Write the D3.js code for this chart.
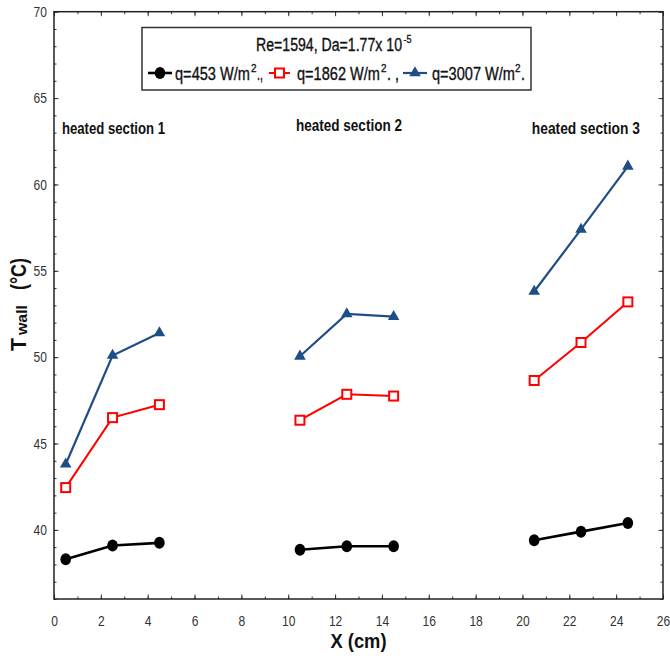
<!DOCTYPE html>
<html>
<head>
<meta charset="utf-8">
<script src="https://cdn.jsdelivr.net/npm/d3@7"></script>
<style>
  html, body { margin: 0; padding: 0; background: #fff; }
  svg { display: block; }
</style>
</head>
<body>
<svg id="chart" width="670" height="666"></svg>
<script>
// Wall temperature along the three heated sections
const xSection1 = [0.5, 2.5, 4.5];
const xSection2 = [10.5, 12.5, 14.5];
const xSection3 = [20.5, 22.5, 24.5];

const q453  = [[38.3, 39.1, 39.25], [38.85, 39.05, 39.05], [39.4, 39.9, 40.4]];
const q1862 = [[42.45, 46.5, 47.25], [46.35, 47.85, 47.75], [48.65, 50.85, 53.2]];
const q3007 = [[43.8, 50.1, 51.4], [50.05, 52.5, 52.35], [53.8, 57.4, 61.05]];

const xTickValues = [0, 2, 4, 6, 8, 10, 12, 14, 16, 18, 20, 22, 24, 26];
const yTickValues = [40, 45, 50, 55, 60, 65, 70];
const sectionLabels = ["heated section 1", "heated section 2", "heated section 3"];
const seriesLabels = ["q=453 W/m", "q=1862 W/m", "q=3007 W/m"];
const seriesSuffix = [".,", ". ,", "."];

const sections = [xSection1, xSection2, xSection3];

const svg = d3.select("#chart");
const plotLeft = 54, plotRight = 663, plotTop = 11.7, plotBottom = 599;

const x = d3.scaleLinear().domain([0, 26]).range([plotLeft, plotRight]);
const y = d3.scaleLinear().domain([36, 70]).range([plotBottom, plotTop]);

// condensed sans: narrow face if present, otherwise squeezed with textLength
const FONT = '"Liberation Sans Narrow", "Arial Narrow", "Liberation Sans", Arial, sans-serif';

function squeezed(sel, len) {
  return sel.attr("textLength", len).attr("lengthAdjust", "spacingAndGlyphs");
}

// ---- axes: inward ticks on all four sides ----
const minorX = d3.range(0, 27, 1);
const minorY = d3.range(36, 71, 1);
const tickColor = "#333";

function styleAxis(g) {
  g.select(".domain").remove();
  g.selectAll(".tick line").attr("stroke", tickColor).attr("stroke-width", 1);
  g.selectAll(".tick text")
    .attr("font-family", FONT).attr("font-size", 15).attr("fill", "#333")
    .each(function () {
      const t = d3.select(this);
      const n = t.text().length;
      if (n) squeezed(t, n * 6.7);
    });
}

// minor ticks
svg.append("g").attr("transform", `translate(0,${plotBottom})`)
  .call(d3.axisBottom(x).tickValues(minorX).tickSize(-2.5).tickFormat(""))
  .call(styleAxis);
svg.append("g").attr("transform", `translate(0,${plotTop})`)
  .call(d3.axisTop(x).tickValues(minorX).tickSize(-2.5).tickFormat(""))
  .call(styleAxis);
svg.append("g").attr("transform", `translate(${plotLeft},0)`)
  .call(d3.axisLeft(y).tickValues(minorY).tickSize(-2.5).tickFormat(""))
  .call(styleAxis);
svg.append("g").attr("transform", `translate(${plotRight},0)`)
  .call(d3.axisRight(y).tickValues(minorY).tickSize(-2.5).tickFormat(""))
  .call(styleAxis);

// major ticks with labels
svg.append("g").attr("transform", `translate(0,${plotBottom})`)
  .call(d3.axisBottom(x).tickValues(xTickValues).tickSize(-4.5).tickPadding(16).tickFormat(d3.format("d")))
  .call(styleAxis);
svg.append("g").attr("transform", `translate(0,${plotTop})`)
  .call(d3.axisTop(x).tickValues(xTickValues).tickSize(-4.5).tickFormat(""))
  .call(styleAxis);
svg.append("g").attr("transform", `translate(${plotLeft},0)`)
  .call(d3.axisLeft(y).tickValues(yTickValues).tickSize(-4.5).tickPadding(7).tickFormat(d3.format("d")))
  .call(styleAxis);
svg.append("g").attr("transform", `translate(${plotRight},0)`)
  .call(d3.axisRight(y).tickValues(yTickValues).tickSize(-4.5).tickFormat(""))
  .call(styleAxis);

// frame
svg.append("rect")
  .attr("x", plotLeft).attr("y", plotTop)
  .attr("width", plotRight - plotLeft).attr("height", plotBottom - plotTop)
  .attr("fill", "none").attr("stroke", "#222").attr("stroke-width", 1.5);

// ---- axis titles ----
svg.append("text")
  .attr("x", (plotLeft + plotRight) / 2).attr("y", 648)
  .attr("text-anchor", "middle")
  .attr("font-family", FONT).attr("font-weight", "bold").attr("font-size", 21)
  .attr("fill", "#111")
  .call(squeezed, 56)
  .text("X (cm)");

// rotated y title: T, subscript "wall", then the unit
const yTitle = svg.append("g")
  .attr("transform", "translate(26,351) rotate(-90)")
  .attr("font-family", FONT).attr("font-weight", "bold").attr("fill", "#111");
yTitle.append("text").attr("x", 0).attr("y", 0).attr("font-size", 22)
  .call(squeezed, 13).text("T");
yTitle.append("text").attr("x", 16).attr("y", 1).attr("font-size", 15)
  .call(squeezed, 30).text("wall");
yTitle.append("text").attr("x", 61).attr("y", 0).attr("font-size", 22)
  .call(squeezed, 32).text("(°C)");

// ---- section labels ----
const labelPos = [
  { x: 0.34, y: 62.9, w: 103 },
  { x: 10.33, y: 63.1, w: 106 },
  { x: 20.4, y: 62.9, w: 108 }
];
svg.append("g").selectAll("text")
  .data(sectionLabels)
  .join("text")
  .attr("x", (d, i) => x(labelPos[i].x))
  .attr("y", (d, i) => y(labelPos[i].y))
  .attr("font-family", FONT).attr("font-weight", "bold").attr("font-size", 17)
  .attr("fill", "#111")
  .attr("textLength", (d, i) => labelPos[i].w)
  .attr("lengthAdjust", "spacingAndGlyphs")
  .text(d => d);

// ---- series ----
const series = [
  { values: q453,  color: "#000000", width: 2.6, marker: "circle" },
  { values: q1862, color: "#ff0000", width: 2.0, marker: "square" },
  { values: q3007, color: "#1f4e87", width: 2.2, marker: "triangle" }
];

const line = d3.line().x(d => x(d[0])).y(d => y(d[1]));

function drawMarker(g, type, color) {
  if (type === "circle") {
    g.append("ellipse").attr("rx", 5.3).attr("ry", 6).attr("fill", color);
  } else if (type === "square") {
    g.append("rect").attr("x", -4.5).attr("y", -4.5).attr("width", 9).attr("height", 9)
      .attr("fill", "#fff").attr("stroke", color).attr("stroke-width", 2);
  } else {
    g.append("path").attr("d", d3.symbol(d3.symbolTriangle, 58)()).attr("fill", color);
  }
}

series.forEach(s => {
  const g = svg.append("g");
  s.values.forEach((vals, si) => {
    const pts = sections[si].map((xv, k) => [xv, vals[k]]);
    g.append("path").attr("d", line(pts))
      .attr("fill", "none").attr("stroke", s.color).attr("stroke-width", s.width);
    pts.forEach(p => {
      const m = g.append("g").attr("transform", `translate(${x(p[0])},${y(p[1])})`);
      drawMarker(m, s.marker, s.color);
    });
  });
});

// ---- legend ----
const legend = svg.append("g")
  .attr("font-family", FONT).attr("fill", "#111");
legend.append("rect")
  .attr("x", 142).attr("y", 27.5).attr("width", 389).attr("height", 62.5)
  .attr("fill", "#fff").attr("stroke", "#333").attr("stroke-width", 1.5);

// slightly heavier strokes for the legend wording
const legendText = g => g.attr("stroke", "#111").attr("stroke-width", 0.35);

legend.append("text").attr("x", 256).attr("y", 51).attr("font-size", 17.5)
  .call(squeezed, 146).call(legendText).text("Re=1594, Da=1.77x 10");
legend.append("text").attr("x", 403.5).attr("y", 43).attr("font-size", 11)
  .call(squeezed, 8).call(legendText).text("-5");

const legendItems = [
  { lx0: 148, lx1: 172, tx: 175, tw: 75, sx: 251, fx: 257, fw: 6 },
  { lx0: 269, lx1: 290, tx: 297, tw: 83, sx: 381, fx: 387, fw: 12 },
  { lx0: 403, lx1: 427, tx: 432, tw: 83, sx: 515, fx: 521, fw: 4 }
];
series.forEach((s, i) => {
  const it = legendItems[i];
  legend.append("line")
    .attr("x1", it.lx0).attr("x2", it.lx1).attr("y1", 73).attr("y2", 73)
    .attr("stroke", s.color).attr("stroke-width", s.width);
  const m = legend.append("g").attr("transform", `translate(${(it.lx0 + it.lx1) / 2},73)`);
  drawMarker(m, s.marker, s.color);
  legend.append("text").attr("x", it.tx).attr("y", 80).attr("font-size", 17.5)
    .call(squeezed, it.tw).call(legendText).text(seriesLabels[i]);
  legend.append("text").attr("x", it.sx).attr("y", 72).attr("font-size", 11)
    .call(squeezed, 5.5).call(legendText).text("2");
  legend.append("text").attr("x", it.fx).attr("y", 80).attr("font-size", 17.5)
    .call(squeezed, it.fw).call(legendText).text(seriesSuffix[i]);
});
</script>
</body>
</html>
